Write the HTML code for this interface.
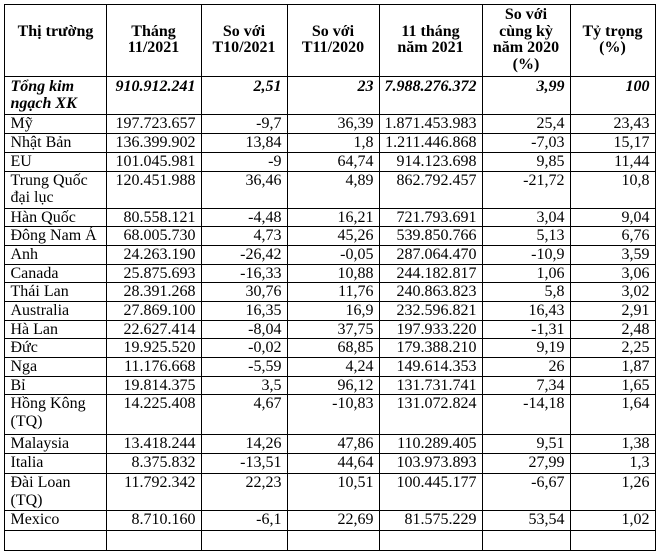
<!DOCTYPE html>
<html><head><meta charset="utf-8"><style>
html,body{margin:0;padding:0;background:#fff;width:657px;height:535px;overflow:hidden}
table{position:absolute;left:3.5px;top:3.5px;border-collapse:collapse;table-layout:fixed;font-family:"Liberation Serif",serif;font-size:16px;color:#000}
td{border:1px solid #000;padding:0 5px 0 5px;line-height:17.5px;vertical-align:top;text-align:right;overflow:hidden;white-space:nowrap;box-sizing:border-box}
td:first-child{text-align:left;padding-left:6px}
tr.h td{text-align:center;vertical-align:middle;font-weight:bold;white-space:normal;line-height:16.5px}
tr.t td{font-weight:bold;font-style:italic;padding-top:1px}
</style></head><body>
<table>
<colgroup><col style="width:102px"><col style="width:95px"><col style="width:86px"><col style="width:92px"><col style="width:101px"><col style="width:88px"><col style="width:85px"></colgroup>
<tr class="h" style="height:72px"><td style="text-align:center">Thị trường<br>&nbsp;</td><td>Tháng<br>11/2021</td><td>So với<br>T10/2021</td><td>So với<br>T11/2020</td><td>11 tháng<br>năm 2021</td><td>So với<br>cùng kỳ<br>năm 2020<br>(%)</td><td>Tỷ trọng<br>(%)</td></tr>
<tr class="t" style="height:38px"><td>Tổng kim<br>ngạch XK</td><td>910.912.241</td><td>2,51</td><td>23</td><td>7.988.276.372</td><td>3,99</td><td>100</td></tr>
<tr style="height:19px"><td>Mỹ</td><td>197.723.657</td><td>-9,7</td><td>36,39</td><td>1.871.453.983</td><td>25,4</td><td>23,43</td></tr>
<tr style="height:19px"><td>Nhật Bản</td><td>136.399.902</td><td>13,84</td><td>1,8</td><td>1.211.446.868</td><td>-7,03</td><td>15,17</td></tr>
<tr style="height:19px"><td>EU</td><td>101.045.981</td><td>-9</td><td>64,74</td><td>914.123.698</td><td>9,85</td><td>11,44</td></tr>
<tr style="height:37px"><td>Trung Quốc<br>đại lục</td><td>120.451.988</td><td>36,46</td><td>4,89</td><td>862.792.457</td><td>-21,72</td><td>10,8</td></tr>
<tr style="height:18.7px"><td>Hàn Quốc</td><td>80.558.121</td><td>-4,48</td><td>16,21</td><td>721.793.691</td><td>3,04</td><td>9,04</td></tr>
<tr style="height:18.7px"><td>Đông Nam Á</td><td>68.005.730</td><td>4,73</td><td>45,26</td><td>539.850.766</td><td>5,13</td><td>6,76</td></tr>
<tr style="height:18.7px"><td>Anh</td><td>24.263.190</td><td>-26,42</td><td>-0,05</td><td>287.064.470</td><td>-10,9</td><td>3,59</td></tr>
<tr style="height:18.7px"><td>Canada</td><td>25.875.693</td><td>-16,33</td><td>10,88</td><td>244.182.817</td><td>1,06</td><td>3,06</td></tr>
<tr style="height:18.7px"><td>Thái Lan</td><td>28.391.268</td><td>30,76</td><td>11,76</td><td>240.863.823</td><td>5,8</td><td>3,02</td></tr>
<tr style="height:18.7px"><td>Australia</td><td>27.869.100</td><td>16,35</td><td>16,9</td><td>232.596.821</td><td>16,43</td><td>2,91</td></tr>
<tr style="height:18.7px"><td>Hà Lan</td><td>22.627.414</td><td>-8,04</td><td>37,75</td><td>197.933.220</td><td>-1,31</td><td>2,48</td></tr>
<tr style="height:18.7px"><td>Đức</td><td>19.925.520</td><td>-0,02</td><td>68,85</td><td>179.388.210</td><td>9,19</td><td>2,25</td></tr>
<tr style="height:18.7px"><td>Nga</td><td>11.176.668</td><td>-5,59</td><td>4,24</td><td>149.614.353</td><td>26</td><td>1,87</td></tr>
<tr style="height:18.7px"><td>Bỉ</td><td>19.814.375</td><td>3,5</td><td>96,12</td><td>131.731.741</td><td>7,34</td><td>1,65</td></tr>
<tr style="height:40px"><td>Hồng Kông<br>(TQ)</td><td>14.225.408</td><td>4,67</td><td>-10,83</td><td>131.072.824</td><td>-14,18</td><td>1,64</td></tr>
<tr style="height:19px"><td>Malaysia</td><td>13.418.244</td><td>14,26</td><td>47,86</td><td>110.289.405</td><td>9,51</td><td>1,38</td></tr>
<tr style="height:20px"><td>Italia</td><td>8.375.832</td><td>-13,51</td><td>44,64</td><td>103.973.893</td><td>27,99</td><td>1,3</td></tr>
<tr style="height:37px"><td>Đài Loan<br>(TQ)</td><td>11.792.342</td><td>22,23</td><td>10,51</td><td>100.445.177</td><td>-6,67</td><td>1,26</td></tr>
<tr style="height:20px"><td>Mexico</td><td>8.710.160</td><td>-6,1</td><td>22,69</td><td>81.575.229</td><td>53,54</td><td>1,02</td></tr>
<tr style="height:20px"><td>&nbsp;</td><td></td><td></td><td></td><td></td><td></td><td></td></tr>
</table>
</body></html>
